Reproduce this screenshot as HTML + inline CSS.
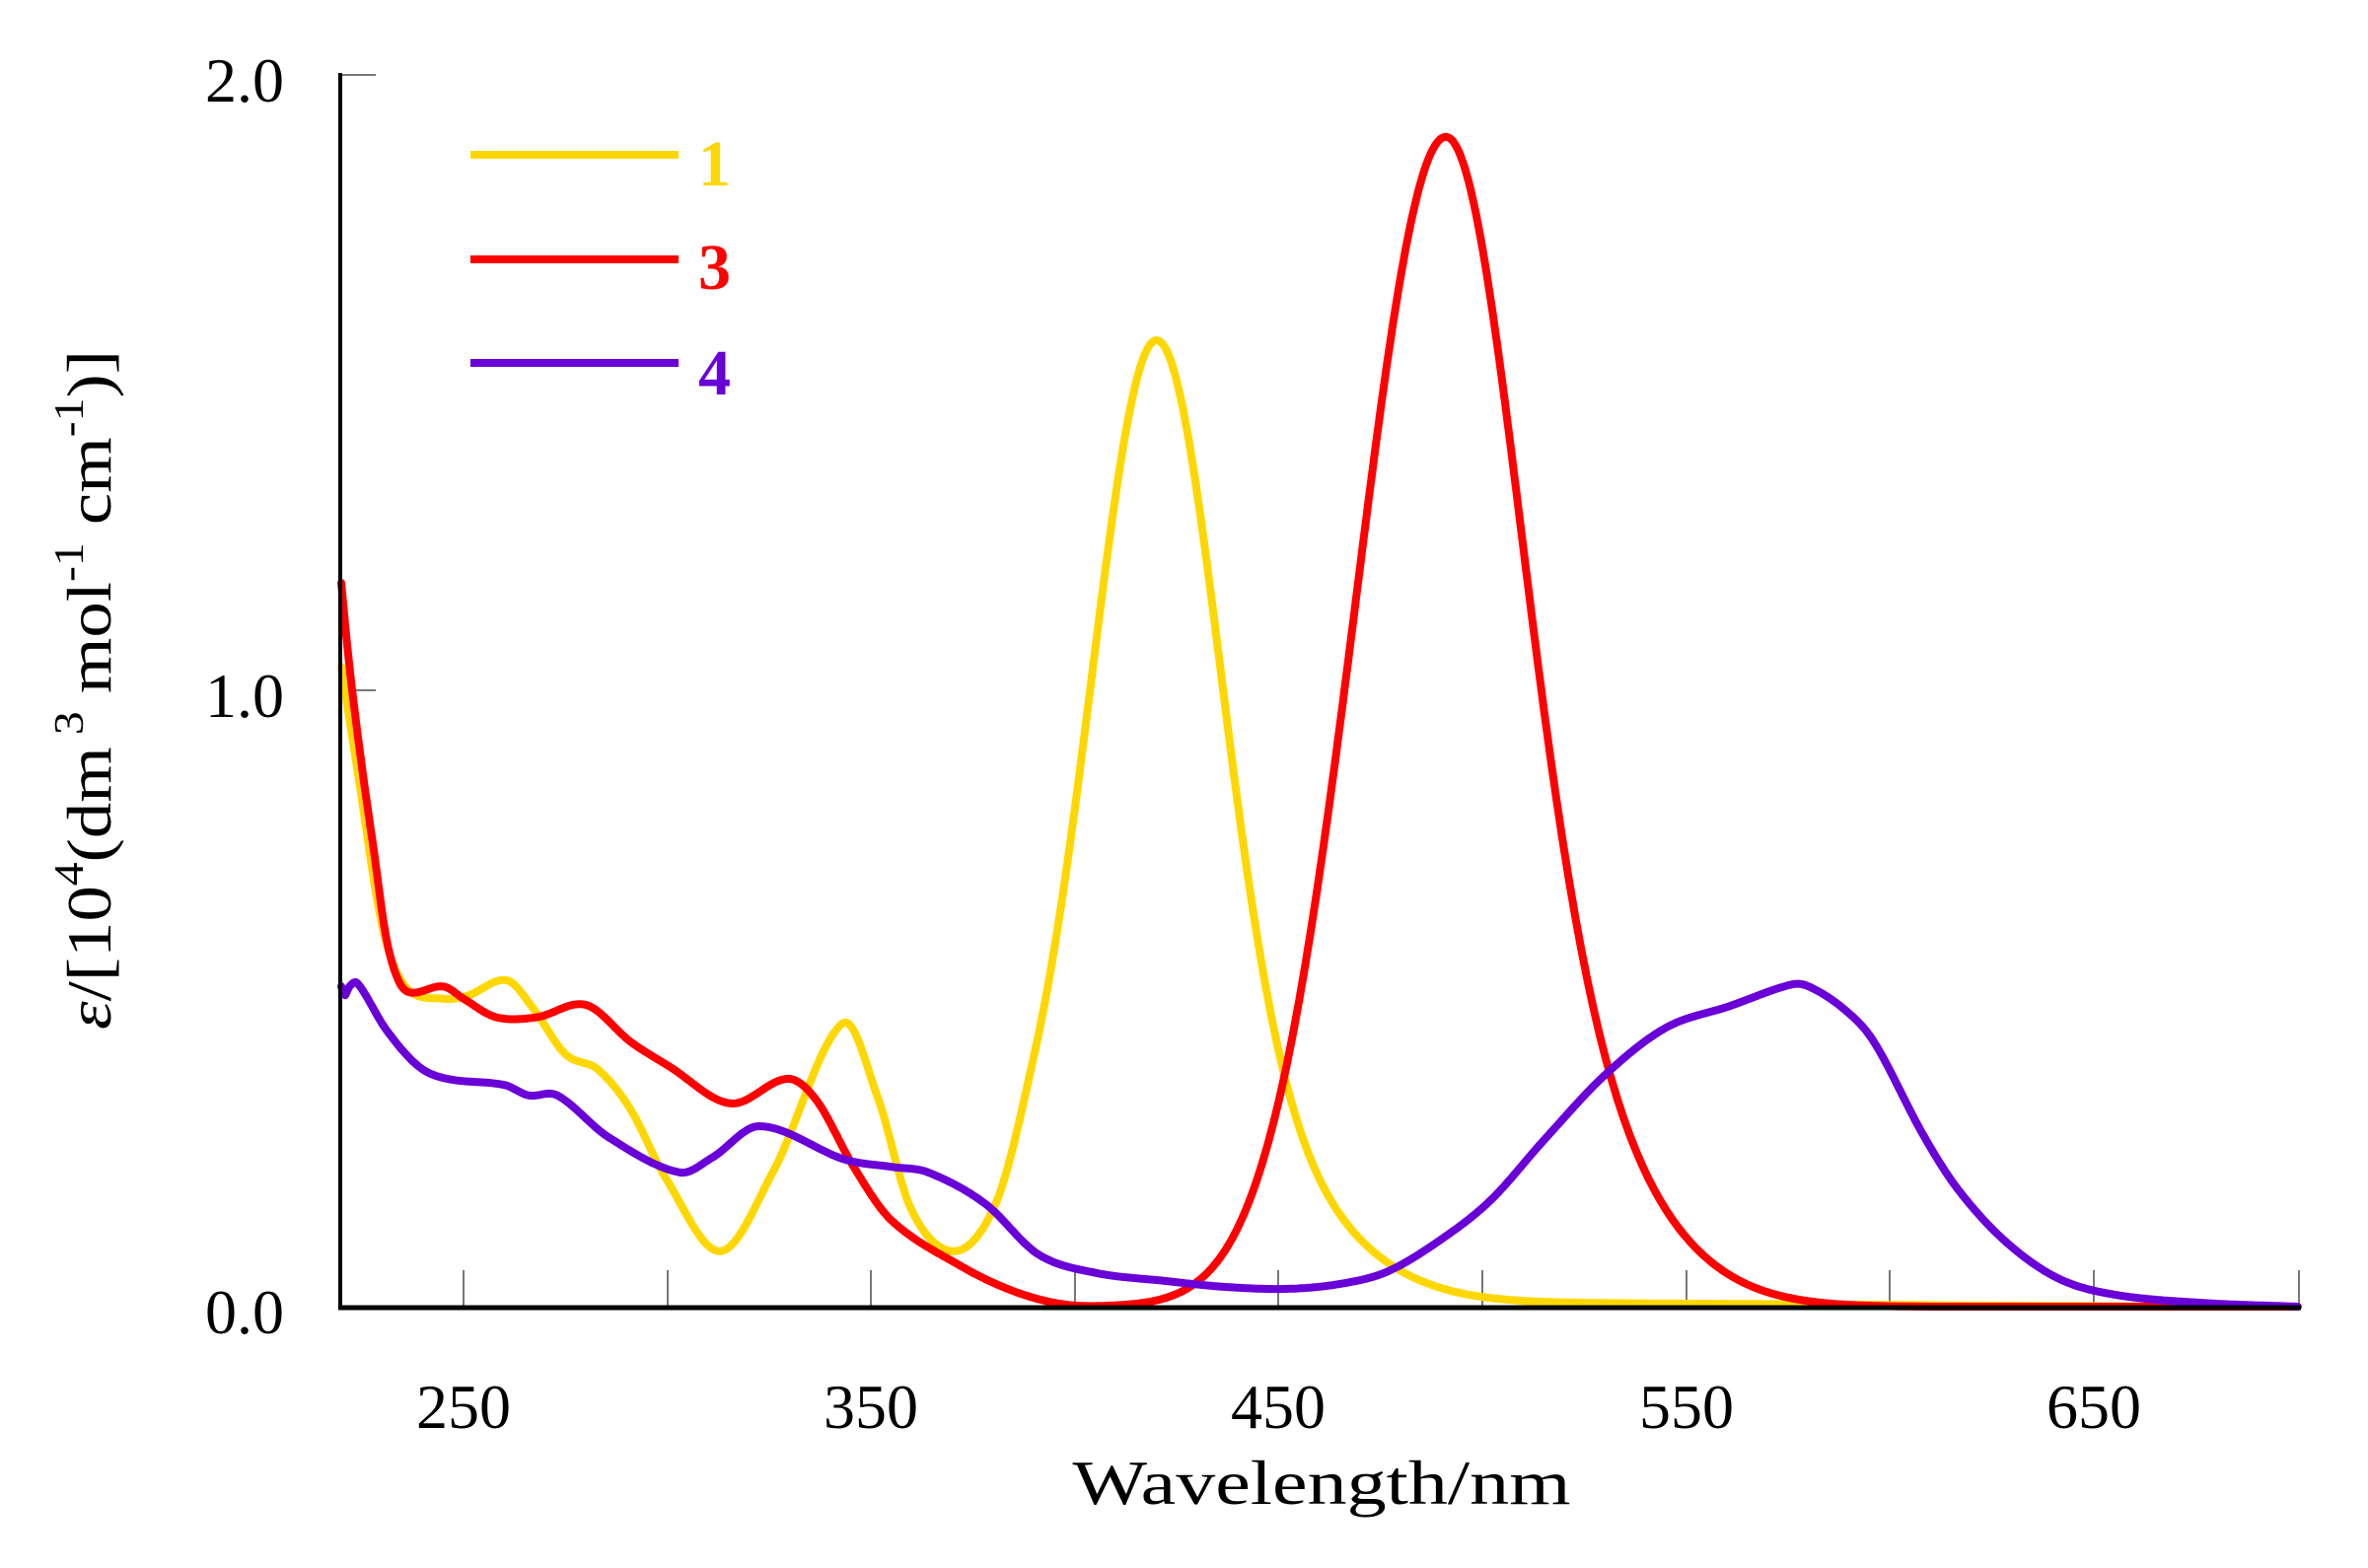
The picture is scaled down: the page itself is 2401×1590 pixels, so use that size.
<!DOCTYPE html>
<html><head><meta charset="utf-8"><style>
html,body{margin:0;padding:0;background:#fff;}
svg{display:block;font-family:"Liberation Serif",serif;}
</style></head><body>
<svg id="s" width="2401" height="1590" viewBox="0 0 2401 1590" xmlns="http://www.w3.org/2000/svg">
<rect width="2401" height="1590" fill="#fff"/>
<g stroke="#777" stroke-width="2">
<line x1="470" y1="1325" x2="470" y2="1288"/>
<line x1="677" y1="1325" x2="677" y2="1288"/>
<line x1="883" y1="1325" x2="883" y2="1288"/>
<line x1="1090" y1="1325" x2="1090" y2="1288"/>
<line x1="1296" y1="1325" x2="1296" y2="1288"/>
<line x1="1503" y1="1325" x2="1503" y2="1288"/>
<line x1="1710" y1="1325" x2="1710" y2="1288"/>
<line x1="1916" y1="1325" x2="1916" y2="1288"/>
<line x1="2123" y1="1325" x2="2123" y2="1288"/>
<line x1="2331" y1="1325" x2="2331" y2="1288"/>
<line x1="345" y1="76" x2="381" y2="76"/>
<line x1="345" y1="700" x2="381" y2="700"/>
</g>
<g id="curves" fill="none" stroke-width="8" stroke-linejoin="round" stroke-linecap="round"></g>
<line x1="345" y1="74" x2="345" y2="1327" stroke="#000" stroke-width="4"/>
<line x1="343" y1="1326" x2="2333" y2="1326" stroke="#000" stroke-width="5"/>
<g font-size="64" fill="#000" text-anchor="end">
<text x="288" y="103">2.0</text>
<text x="288" y="727">1.0</text>
<text x="288" y="1352">0.0</text>
</g>
<g font-size="64" fill="#000" text-anchor="middle">
<text x="470" y="1448">250</text>
<text x="883" y="1448">350</text>
<text x="1296" y="1448">450</text>
<text x="1710" y="1448">550</text>
<text x="2123" y="1448">650</text>
<text x="1340" y="1525" textLength="505" lengthAdjust="spacingAndGlyphs">Wavelength/nm</text>
</g>
<text transform="translate(112,1044) rotate(-90)" font-size="64" fill="#000" textLength="689" lengthAdjust="spacingAndGlyphs"><tspan font-style="italic">ε</tspan>/[10<tspan font-size="42" dy="-28">4</tspan><tspan dy="28">(dm</tspan><tspan font-size="42" dy="-28"> 3</tspan><tspan dy="28"> mol</tspan><tspan font-size="42" dy="-28">-1</tspan><tspan dy="28"> cm</tspan><tspan font-size="42" dy="-28">-1</tspan><tspan dy="28">)]</tspan></text>
<g stroke-width="8">
<line x1="477" y1="157" x2="688" y2="157" stroke="#FFD700"/>
<line x1="477" y1="263" x2="688" y2="263" stroke="#FF0000"/>
<line x1="477" y1="368" x2="688" y2="368" stroke="#6A00D8"/>
</g>
<g font-size="66" font-weight="bold">
<text x="708" y="188" fill="#FFD700">1</text>
<text x="708" y="293" fill="#FF0000">3</text>
<text x="708" y="400" fill="#6A00D8">4</text>
</g>
</svg>
<script>
function X(nm){return 470+(nm-250)*4.133;}
function Y(v){return 1325-v*624.5;}
function g2(A,mu,fl,s1l,s2l,fr,s1r,s2r){return function(x){var d=x-mu,f,s1,s2;if(d<0){f=fl;s1=s1l;s2=s2l;}else{f=fr;s1=s1r;s2=s2r;}return A*(f*Math.exp(-d*d/(2*s1*s1))+(1-f)*Math.exp(-d*d/(2*s2*s2)));};}
function spline(pts,x){
 var n=pts.length;
 if(x<=pts[0][0])return pts[0][1];
 if(x>=pts[n-1][0])return pts[n-1][1];
 var i=0;while(i<n-2&&x>pts[i+1][0])i++;
 var p0=pts[Math.max(i-1,0)],p1=pts[i],p2=pts[i+1],p3=pts[Math.min(i+2,n-1)];
 var t=(x-p1[0])/(p2[0]-p1[0]);
 var m1=(p2[1]-p0[1])/(p2[0]-p0[0])*(p2[0]-p1[0]);
 var m2=(p3[1]-p1[1])/(p3[0]-p1[0])*(p2[0]-p1[0]);
 if(p0===p1)m1=(p2[1]-p1[1]);if(p3===p2)m2=(p2[1]-p1[1]);
 var t2=t*t,t3=t2*t;
 return (2*t3-3*t2+1)*p1[1]+(t3-2*t2+t)*m1+(-2*t3+3*t2)*p2[1]+(t3-t2)*m2;
}
function build(meas,model,cut,color){
 var low=meas.map(function(p){return [p[0],p[0]>=cut?0:p[1]-(model?model(p[0]):0)];});
 var d="";
 for(var x=220;x<=700;x+=0.5){
  var v=spline(low,x)+(model?model(x):0);
  if(v<0)v=0;
  d+=(x===220?"M":"L")+X(x).toFixed(1)+","+Y(v).toFixed(1);
 }
 var p=document.createElementNS("http://www.w3.org/2000/svg","path");
 p.setAttribute("d",d);p.setAttribute("stroke",color);
 document.getElementById("curves").appendChild(p);
}
var ym=g2(1.566,420,0.72,15,29,0.72,15,29);
build([[219.5,1.06],[224,0.87],[230,0.62],[235.7,0.52],[245,0.50],[251,0.505],[260.6,0.53],[267,0.485],[275,0.41],[283,0.385],[291,0.32],[299.5,0.21],[313,0.09],[326,0.22],[343,0.46],[351.6,0.34],[359.7,0.16],[370,0.09],[380.4,0.165],[390,0],[700,0]],ym,386,"#FFD700");
var rm=g2(1.90,491,1,22,22,0.6,17,30);
build([[219.5,1.21],[222,1.04],[225,0.88],[228,0.74],[231,0.6],[234,0.53],[237,0.51],[245,0.52],[250,0.50],[258,0.47],[268,0.47],[280,0.49],[291,0.43],[300.5,0.39],[315.5,0.33],[329.5,0.37],[336.6,0.335],[345.8,0.226],[355,0.14],[372,0.066],[385,0.025],[397,0.004],[410,0],[700,0]],rm,410,"#FF0000");
build([[219.5,0.535],[220.7,0.505],[222,0.52],[224,0.525],[231,0.45],[239,0.39],[246,0.37],[260,0.36],[266,0.343],[273,0.343],[285.6,0.275],[303,0.218],[311,0.242],[322.6,0.293],[343.5,0.239],[355,0.227],[364,0.218],[378,0.167],[391,0.085],[405,0.055],[421.8,0.042],[437,0.032],[452.5,0.029],[466,0.038],[477,0.058],[490,0.11],[502,0.173],[515,0.27],[530,0.376],[545,0.453],[560.6,0.488],[575.7,0.523],[580,0.52],[588.7,0.483],[596,0.43],[608,0.28],[616.8,0.189],[628.6,0.104],[641.5,0.045],[655.5,0.019],[677,0.006],[700,0]],null,999,"#6A00D8");
</script>
</body></html>
